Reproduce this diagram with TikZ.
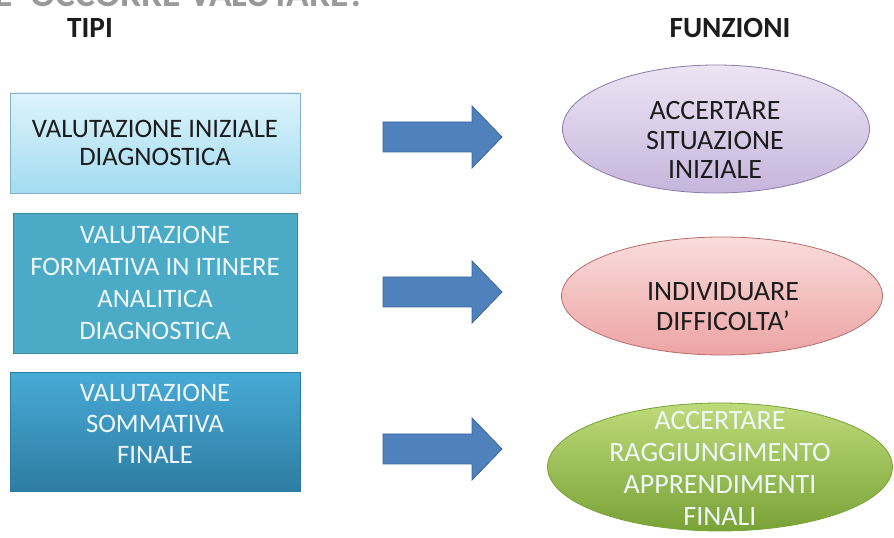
\documentclass[tikz,border=0pt]{standalone}
\usepackage{fontspec}
\setmainfont{Carlito}
\usetikzlibrary{shapes.geometric}

\definecolor{azzurroA}{HTML}{DDF3FB}
\definecolor{azzurroB}{HTML}{A3DCF1}
\definecolor{azzurroL}{HTML}{86AFC2}
\definecolor{ottanio}{HTML}{4BAAC6}
\definecolor{bluA}{HTML}{47AAD6}
\definecolor{bluB}{HTML}{2E7CA2}
\definecolor{freccia}{HTML}{4F81BD}
\definecolor{frecciaL}{HTML}{3B669B}
\definecolor{lillaA}{HTML}{ECE5F4}
\definecolor{lillaB}{HTML}{C6B5DC}
\definecolor{lillaL}{HTML}{8A7AA6}
\definecolor{rosaA}{HTML}{FADCDC}
\definecolor{rosaB}{HTML}{EDA4A4}
\definecolor{rosaL}{HTML}{B56D6D}
\definecolor{verdeA}{HTML}{BEDB7A}
\definecolor{verdeB}{HTML}{79A236}
\definecolor{chiaro}{HTML}{EEF7FB}
\definecolor{scuro}{HTML}{1C1C1C}

\begin{document}
\begin{tikzpicture}[
    x=0.75pt, y=-0.75pt,
    font=\fontsize{20}{23}\selectfont, text=scuro,
    every node/.append style={align=center, inner sep=0pt},
    titolo/.style={font=\fontsize{22}{26}\selectfont\bfseries},
    tipo/.style={rectangle, draw=azzurroL, line width=0.6pt},
    funzione/.style={ellipse, line width=0.6pt},
    blocco/.style={fill=freccia, draw=frecciaL, line width=0.6pt, line join=miter}
]
    \useasboundingbox (0,0) rectangle (894,538);

    % titolo tagliato in alto
    \node[anchor=base east, text=gray!80, font=\fontsize{28}{32}\selectfont\bfseries]
        (testa) at (366,7) {PERCHE' OCCORRE VALUTARE?};

    \node[titolo] (tipi) at (90,28) {TIPI};
    \node[titolo] (funz) at (730,28) {FUNZIONI};

    % tipi di valutazione
    \node[tipo, top color=azzurroA, bottom color=azzurroB,
          font=\fontsize{20}{21}\selectfont,
          minimum width=217.5pt, minimum height=75pt] (t1) at (155,143)
        {VALUTAZIONE INIZIALE\\DIAGNOSTICA};
    \node[tipo, draw=ottanio!80!black, fill=ottanio, text=chiaro,
          font=\fontsize{20}{24}\selectfont,
          minimum width=213pt, minimum height=105pt] (t2) at (155,283)
        {VALUTAZIONE\\FORMATIVA IN ITINERE\\ANALITICA\\DIAGNOSTICA};
    \node[tipo, draw=bluB, top color=bluA, bottom color=bluB,
          minimum width=217.5pt, minimum height=89.25pt] (t3) at (155,432) {};
    \node[text=chiaro, font=\fontsize{20}{23.5}\selectfont] (t3t) at (155,424)
        {VALUTAZIONE\\SOMMATIVA\\FINALE};

    % funzioni
    \node[funzione, draw=lillaL, top color=lillaA, bottom color=lillaB,
          minimum width=230.25pt, minimum height=96pt] (f1) at (716,129) {};
    \node[font=\fontsize{21}{22}\selectfont] (f1t) at (715,140)
        {ACCERTARE\\SITUAZIONE\\INIZIALE};
    \node[funzione, draw=rosaL, top color=rosaA, bottom color=rosaB,
          minimum width=240.75pt, minimum height=88.5pt] (f2) at (722,296) {};
    \node[font=\fontsize{21}{22.5}\selectfont] (f2t) at (723,307)
        {INDIVIDUARE\\DIFFICOLTA'};
    \node[funzione, draw=verdeB, top color=verdeA, bottom color=verdeB,
          minimum width=258.75pt, minimum height=96pt] (f3) at (720,467) {};
    \node[text=chiaro, font=\fontsize{21}{24}\selectfont] (f3t) at (720,468)
        {ACCERTARE\\RAGGIUNGIMENTO\\APPRENDIMENTI\\FINALI};

    % frecce a blocco
    \foreach \y in {137,292,449}
        \draw[blocco] (383,\y-15) -- (472,\y-15) -- (472,\y-31) -- (502,\y)
            -- (472,\y+31) -- (472,\y+15) -- (383,\y+15) -- cycle;
\end{tikzpicture}
\end{document}
